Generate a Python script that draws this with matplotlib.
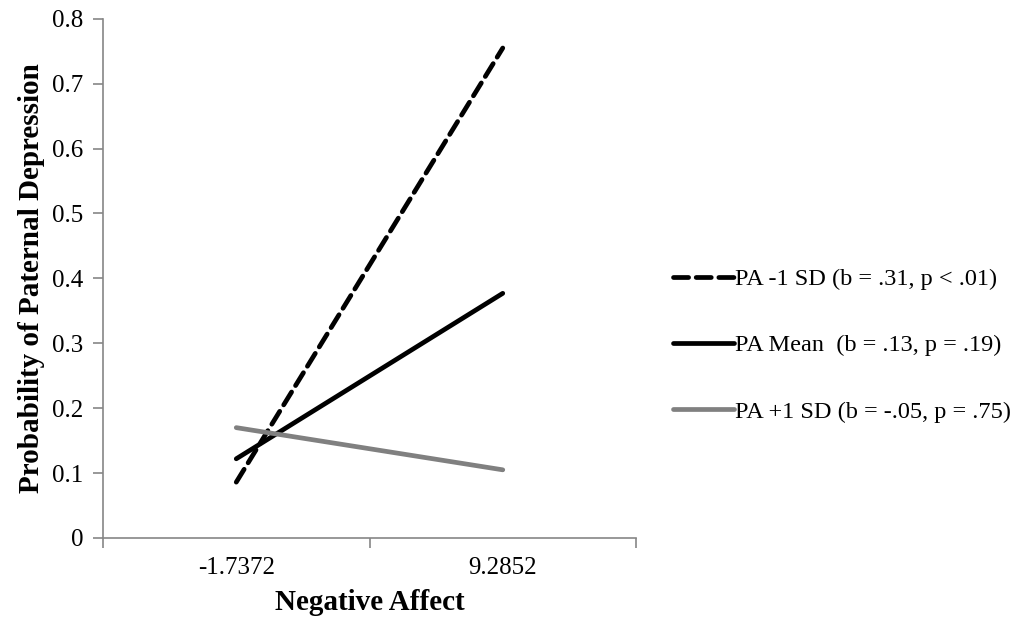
import matplotlib.pyplot as plt

# category positions on the x axis (Negative Affect values)
categories = ['-1.7372', '9.2852']

# predicted probabilities per moderator level
pa_low = [0.086, 0.755]
pa_mean = [0.122, 0.377]
pa_high = [0.170, 0.105]

labels = ['PA -1 SD (b = .31, p < .01)',
          'PA Mean  (b = .13, p = .19)',
          'PA +1 SD (b = -.05, p = .75)']

plt.rcParams['font.family'] = ['Liberation Serif', 'DejaVu Serif']

fig = plt.figure(figsize=(10.31, 6.27), dpi=100)
ax = fig.add_axes([0.0999, 0.142, 0.517, 0.828])

x = range(len(categories))
ax.plot(x, pa_low, color='black', lw=3.4, ls=(0, (3.2, 1.6)),
        solid_capstyle='round', dash_capstyle='round', label=labels[0])
ax.plot(x, pa_mean, color='black', lw=3.4, solid_capstyle='round', label=labels[1])
ax.plot(x, pa_high, color='#808080', lw=3.4, solid_capstyle='round', label=labels[2])

ax.set_xlim(-0.5, len(categories) - 0.5)
ax.set_ylim(0, 0.8)
ax.set_yticks([i / 10 for i in range(9)])
ax.set_yticklabels(['0'] + [f'{i / 10:.1f}' for i in range(1, 9)])
ax.set_xticks(list(x))
ax.set_xticklabels(categories)
ax.set_xticks([-0.5, 0.5, 1.5], minor=True)
ax.tick_params(axis='x', which='major', length=0, pad=14, labelsize=18)
ax.tick_params(axis='x', which='minor', length=7, color='#868686', width=1.2)
ax.tick_params(axis='y', length=7, color='#868686', width=1.2, labelsize=18, pad=7)

for side in ['top', 'right']:
    ax.spines[side].set_visible(False)
for side in ['left', 'bottom']:
    ax.spines[side].set_color('#868686')
    ax.spines[side].set_linewidth(1.2)

ax.set_xlabel('Negative Affect', fontsize=21, fontweight='bold', labelpad=7)
ax.set_ylabel('Probability of Paternal Depression', fontsize=21, fontweight='bold', labelpad=5)

fig.legend(loc='center left', bbox_to_anchor=(0.632, 0.449), frameon=False,
           fontsize=17.5, handlelength=2.5, handletextpad=0.05, labelspacing=1.82)

fig.savefig('out.png', dpi=100)
